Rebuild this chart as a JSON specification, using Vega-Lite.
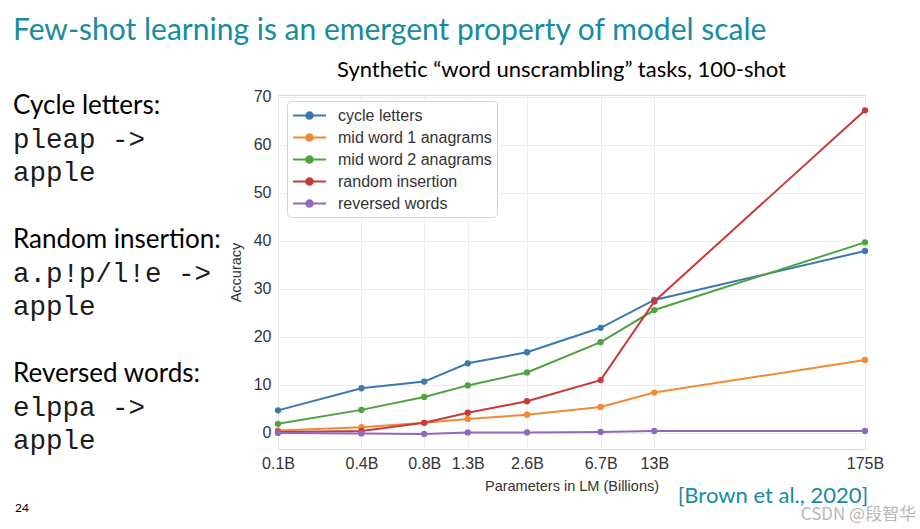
{
  "$schema": "https://vega.github.io/schema/vega-lite/v6.json",
  "background": "white",
  "padding": {"left": 13, "top": 16, "right": 0, "bottom": 0},
  "title": {
    "text": "Few-shot learning is an emergent property of model scale",
    "anchor": "start",
    "font": "Lato",
    "fontSize": 30,
    "fontWeight": "normal",
    "color": "#178ba0",
    "offset": 12
  },
  "config": {
    "view": {"stroke": null},
    "font": "Liberation Sans"
  },
  "spacing": 6,
  "hconcat": [
    {
      "width": 200,
      "height": 420,
      "data": {
        "values": [
          {"row": 0, "col": 0, "kind": "head", "text": "Cycle letters:"},
          {"row": 1, "col": 0, "kind": "code", "text": "pleap ->"},
          {"row": 2, "col": 0, "kind": "code", "text": "apple"},
          {"row": 4, "col": 0, "kind": "head", "text": "Random insertion:"},
          {"row": 5, "col": 0, "kind": "code", "text": "a.p!p/l!e ->"},
          {"row": 6, "col": 0, "kind": "code", "text": "apple"},
          {"row": 8, "col": 0, "kind": "head", "text": "Reversed words:"},
          {"row": 9, "col": 0, "kind": "code", "text": "elppa ->"},
          {"row": 10, "col": 0, "kind": "code", "text": "apple"},
          {"row": 12, "col": 0, "kind": "page", "text": "24"}
        ]
      },
      "encoding": {
        "x": {"field": "col", "type": "quantitative", "scale": {"domain": [0, 1]}, "axis": null},
        "y": {"field": "row", "type": "quantitative", "scale": {"domain": [0, 12], "range": [11, 413]}, "axis": null},
        "text": {"field": "text", "type": "nominal"}
      },
      "layer": [
        {
          "transform": [{"filter": "datum.kind == 'head'"}],
          "mark": {"type": "text", "align": "left", "baseline": "middle", "font": "Lato", "fontSize": 26, "color": "#000000"}
        },
        {
          "transform": [{"filter": "datum.kind == 'code'"}],
          "mark": {"type": "text", "align": "left", "baseline": "middle", "font": "Liberation Mono", "fontSize": 27.5, "color": "#1a1a1a"}
        },
        {
          "transform": [{"filter": "datum.kind == 'page'"}],
          "mark": {"type": "text", "align": "left", "baseline": "middle", "font": "Lato", "fontSize": 12, "color": "#000000", "dx": 2}
        }
      ]
    },
    {
      "title": {
        "text": "[Brown et al., 2020]",
        "orient": "bottom",
        "anchor": "end",
        "font": "Lato",
        "fontSize": 22,
        "fontWeight": "normal",
        "color": "#178ba0",
        "offset": -37,
        "dx": -48
      },
      "vconcat": [
        {
          "title": {
            "text": "CSDN @段智华",
            "orient": "bottom",
            "anchor": "end",
            "font": "Noto Sans CJK SC",
            "fontSize": 17,
            "fontWeight": "normal",
            "color": "#b8b8b8",
            "offset": 14,
            "dx": 32
          },
          "vconcat": [
            {
              "title": {
                "text": "Synthetic “word unscrambling” tasks, 100-shot",
                "font": "Lato",
                "fontSize": 22,
                "fontWeight": "normal",
                "color": "#000000",
                "anchor": "middle",
                "dx": -10,
                "offset": 7
              },
              "width": 587,
              "height": 354,
              "view": {"stroke": "#dadada", "strokeWidth": 1},
              "data": {
                "values": [
                  {"task": "cycle letters", "params": 0.125, "acc": 4.7},
                  {"task": "cycle letters", "params": 0.35, "acc": 9.3},
                  {"task": "cycle letters", "params": 0.76, "acc": 10.7},
                  {"task": "cycle letters", "params": 1.3, "acc": 14.5},
                  {"task": "cycle letters", "params": 2.7, "acc": 16.8},
                  {"task": "cycle letters", "params": 6.7, "acc": 21.9},
                  {"task": "cycle letters", "params": 13, "acc": 27.7},
                  {"task": "cycle letters", "params": 175, "acc": 37.9},
                  {"task": "mid word 1 anagrams", "params": 0.125, "acc": 0.5},
                  {"task": "mid word 1 anagrams", "params": 0.35, "acc": 1.2},
                  {"task": "mid word 1 anagrams", "params": 0.76, "acc": 2.1},
                  {"task": "mid word 1 anagrams", "params": 1.3, "acc": 2.9},
                  {"task": "mid word 1 anagrams", "params": 2.7, "acc": 3.8},
                  {"task": "mid word 1 anagrams", "params": 6.7, "acc": 5.4},
                  {"task": "mid word 1 anagrams", "params": 13, "acc": 8.4},
                  {"task": "mid word 1 anagrams", "params": 175, "acc": 15.2},
                  {"task": "mid word 2 anagrams", "params": 0.125, "acc": 1.9},
                  {"task": "mid word 2 anagrams", "params": 0.35, "acc": 4.8},
                  {"task": "mid word 2 anagrams", "params": 0.76, "acc": 7.5},
                  {"task": "mid word 2 anagrams", "params": 1.3, "acc": 9.9},
                  {"task": "mid word 2 anagrams", "params": 2.7, "acc": 12.6},
                  {"task": "mid word 2 anagrams", "params": 6.7, "acc": 18.9},
                  {"task": "mid word 2 anagrams", "params": 13, "acc": 25.6},
                  {"task": "mid word 2 anagrams", "params": 175, "acc": 39.7},
                  {"task": "random insertion", "params": 0.125, "acc": 0.2},
                  {"task": "random insertion", "params": 0.35, "acc": 0.4},
                  {"task": "random insertion", "params": 0.76, "acc": 2.1},
                  {"task": "random insertion", "params": 1.3, "acc": 4.2},
                  {"task": "random insertion", "params": 2.7, "acc": 6.6},
                  {"task": "random insertion", "params": 6.7, "acc": 11.0},
                  {"task": "random insertion", "params": 13, "acc": 27.4},
                  {"task": "random insertion", "params": 175, "acc": 67.2},
                  {"task": "reversed words", "params": 0.125, "acc": 0.0},
                  {"task": "reversed words", "params": 0.35, "acc": -0.1},
                  {"task": "reversed words", "params": 0.76, "acc": -0.2},
                  {"task": "reversed words", "params": 1.3, "acc": 0.1},
                  {"task": "reversed words", "params": 2.7, "acc": 0.1},
                  {"task": "reversed words", "params": 6.7, "acc": 0.2},
                  {"task": "reversed words", "params": 13, "acc": 0.4},
                  {"task": "reversed words", "params": 175, "acc": 0.4}
                ]
              },
              "encoding": {
                "x": {
                  "field": "params",
                  "type": "quantitative",
                  "scale": {"type": "log", "domain": [0.125, 175], "nice": false},
                  "axis": {
                    "title": "Parameters in LM (Billions)",
                    "values": [0.125, 0.35, 0.76, 1.3, 2.7, 6.7, 13, 175],
                    "labelExpr": "datum.value < 0.2 ? '0.1B' : datum.value < 0.5 ? '0.4B' : datum.value < 1 ? '0.8B' : datum.value < 2 ? '1.3B' : datum.value < 4 ? '2.6B' : datum.value < 10 ? '6.7B' : datum.value < 50 ? '13B' : '175B'",
                    "labelFlush": false,
                    "labelOverlap": false,
                    "labelFont": "Liberation Sans",
                    "labelFontSize": 16,
                    "labelColor": "#333333",
                    "labelPadding": 6,
                    "domain": false,
                    "ticks": false,
                    "grid": true,
                    "gridColor": "#ececec",
                    "titleFont": "Liberation Sans",
                    "titleFontSize": 14.5,
                    "titleFontWeight": "normal",
                    "titleColor": "#333333",
                    "titlePadding": 8
                  }
                },
                "y": {
                  "field": "acc",
                  "type": "quantitative",
                  "scale": {"domain": [-3.35, 70.4], "nice": false, "zero": false},
                  "axis": {
                    "title": "Accuracy",
                    "values": [0, 10, 20, 30, 40, 50, 60, 70],
                    "labelFlush": false,
                    "labelFont": "Liberation Sans",
                    "labelFontSize": 16,
                    "labelColor": "#333333",
                    "labelPadding": 7,
                    "domain": false,
                    "ticks": false,
                    "grid": true,
                    "gridColor": "#ececec",
                    "titleFont": "Liberation Sans",
                    "titleFontSize": 14.5,
                    "titleFontWeight": "normal",
                    "titleColor": "#333333",
                    "titlePadding": 10
                  }
                },
                "color": {
                  "field": "task",
                  "type": "nominal",
                  "scale": {
                    "domain": ["cycle letters", "mid word 1 anagrams", "mid word 2 anagrams", "random insertion", "reversed words"],
                    "range": ["#3b78b2", "#f08a35", "#4ea23f", "#c8393a", "#9068be"]
                  },
                  "legend": {
                    "title": null,
                    "orient": "none",
                    "legendX": 274,
                    "legendY": 6,
                    "fillColor": "white",
                    "strokeColor": "#d4d4d4",
                    "cornerRadius": 4,
                    "padding": 5,
                    "labelFont": "Liberation Sans",
                    "labelFontSize": 16,
                    "labelColor": "#333333",
                    "symbolType": "M-2,0H2M-0.4,0A0.4,0.4 0 1 1 0.4,0A0.4,0.4 0 1 1 -0.4,0Z",
                    "symbolSize": 272,
                    "symbolStrokeWidth": 2,
                    "symbolOffset": 8,
                    "labelOffset": 19,
                    "rowPadding": 4,
                    "encode": {
                      "symbols": {
                        "update": {
                          "fill": {"scale": "color", "field": "value"},
                          "stroke": {"scale": "color", "field": "value"},
                          "opacity": {"value": 1}
                        }
                      }
                    }
                  }
                }
              },
              "layer": [
                {"mark": {"type": "line", "strokeWidth": 2}},
                {"mark": {"type": "point", "filled": true, "size": 40, "opacity": 1}}
              ]
            }
          ]
        }
      ]
    }
  ]
}
